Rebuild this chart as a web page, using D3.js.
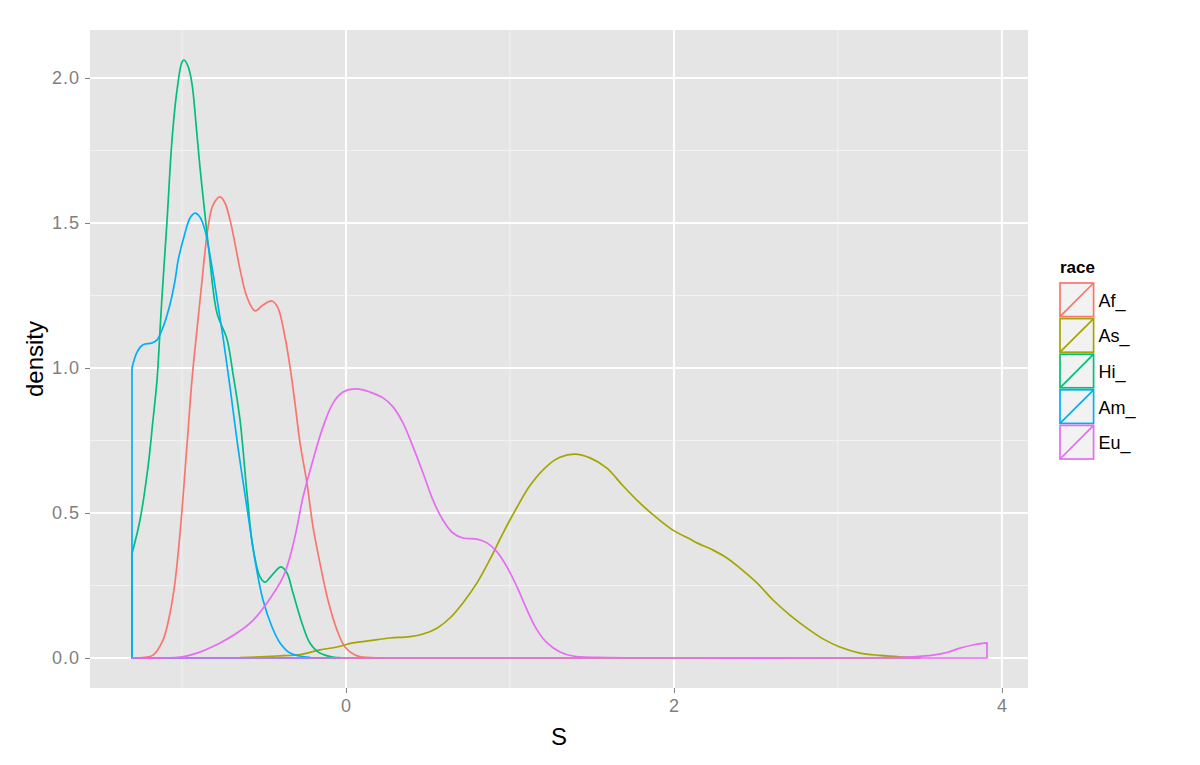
<!DOCTYPE html>
<html>
<head>
<meta charset="utf-8">
<script src="https://cdnjs.cloudflare.com/ajax/libs/d3/7.8.5/d3.min.js"></script>
<style>
  body { margin: 0; background: #fff; }
  text { font-family: Arial, "Liberation Sans", sans-serif; }
</style>
</head>
<body>
<div class="chart"></div>
<script>

// Series names and colours (ggplot default hue palette)
var races = ["Af_", "As_", "Hi_", "Am_", "Eu_"];
var colors = ["#F8766D", "#A3A500", "#00BF7D", "#00B0F6", "#E76BF3"];

// Density estimates, per group
var afX = [-1.305, -1.226, -1.177, -1.116, -1.073, -1.043, -1.012, -0.970, -0.939, -0.909, -0.878, -0.860, -0.841, -0.811, -0.768, -0.738, -0.707, -0.677, -0.646, -0.604, -0.555, -0.506, -0.451, -0.415, -0.372, -0.341, -0.311, -0.280, -0.238, -0.201, -0.159, -0.110, -0.055, -0.006, 0.055, 0.104, 0.226];
var afY = [0, 0.002, 0.01, 0.062, 0.155, 0.26, 0.43, 0.73, 0.96, 1.13, 1.30, 1.40, 1.486, 1.562, 1.59, 1.569, 1.51, 1.43, 1.34, 1.245, 1.197, 1.217, 1.231, 1.207, 1.107, 1.003, 0.879, 0.741, 0.603, 0.452, 0.328, 0.2, 0.097, 0.038, 0.01, 0.003, 0];

var asX = [-0.646, -0.421, -0.280, -0.159, -0.055, 0.043, 0.146, 0.268, 0.390, 0.470, 0.555, 0.634, 0.713, 0.799, 0.878, 0.957, 1.043, 1.122, 1.226, 1.305, 1.396, 1.488, 1.591, 1.689, 1.793, 1.896, 1.994, 2.098, 2.140, 2.238, 2.323, 2.402, 2.506, 2.604, 2.707, 2.811, 2.909, 3.012, 3.134, 3.256, 3.378, 3.5];
var asY = [0.001, 0.007, 0.012, 0.028, 0.038, 0.052, 0.06, 0.069, 0.074, 0.083, 0.103, 0.138, 0.19, 0.259, 0.34, 0.43, 0.52, 0.595, 0.662, 0.692, 0.703, 0.69, 0.655, 0.594, 0.534, 0.483, 0.441, 0.41, 0.397, 0.372, 0.345, 0.31, 0.259, 0.2, 0.148, 0.103, 0.066, 0.038, 0.017, 0.009, 0.004, 0.001];

var hiX = [-1.305, -1.256, -1.207, -1.177, -1.152, -1.134, -1.122, -1.091, -1.061, -1.030, -1.000, -0.988, -0.963, -0.939, -0.915, -0.890, -0.860, -0.835, -0.787, -0.726, -0.689, -0.646, -0.604, -0.567, -0.524, -0.494, -0.451, -0.396, -0.360, -0.323, -0.268, -0.220, -0.159, -0.079, -0.037];
var hiY = [0.36, 0.476, 0.66, 0.82, 0.96, 1.13, 1.245, 1.51, 1.786, 1.96, 2.055, 2.062, 2.04, 1.98, 1.845, 1.69, 1.53, 1.40, 1.19, 1.10, 0.98, 0.82, 0.57, 0.38, 0.28, 0.262, 0.286, 0.314, 0.293, 0.224, 0.12, 0.052, 0.017, 0.003, 0.001];

var amX = [-1.305, -1.274, -1.238, -1.183, -1.152, -1.116, -1.073, -1.043, -1.024, -0.982, -0.951, -0.921, -0.890, -0.860, -0.835, -0.811, -0.787, -0.750, -0.707, -0.659, -0.604, -0.555, -0.506, -0.451, -0.402, -0.341, -0.280, -0.220];
var amY = [1.0, 1.055, 1.08, 1.086, 1.097, 1.14, 1.22, 1.30, 1.37, 1.465, 1.517, 1.534, 1.52, 1.476, 1.407, 1.327, 1.24, 1.107, 0.934, 0.728, 0.52, 0.338, 0.2, 0.107, 0.052, 0.017, 0.007, 0.002];

var euX = [-1.305, -1.012, -0.909, -0.768, -0.665, -0.567, -0.482, -0.384, -0.341, -0.299, -0.262, -0.201, -0.140, -0.079, -0.018, 0.067, 0.146, 0.226, 0.287, 0.348, 0.409, 0.470, 0.530, 0.591, 0.652, 0.713, 0.799, 0.860, 0.921, 0.982, 1.043, 1.104, 1.165, 1.226, 1.305, 1.384, 1.530, 2.0, 3.0, 3.378, 3.457, 3.579, 3.665, 3.744, 3.823, 3.909];
var euY = [0, 0.003, 0.017, 0.052, 0.086, 0.13, 0.19, 0.279, 0.35, 0.45, 0.555, 0.683, 0.797, 0.879, 0.917, 0.928, 0.917, 0.897, 0.866, 0.81, 0.728, 0.638, 0.545, 0.476, 0.431, 0.414, 0.41, 0.397, 0.366, 0.314, 0.245, 0.166, 0.097, 0.052, 0.021, 0.007, 0.002, 0, 0, 0.002, 0.004, 0.01, 0.019, 0.034, 0.045, 0.052];

var seriesX = [afX, asX, hiX, amX, euX];
var seriesY = [afY, asY, hiY, amY, euY];

// Axis breaks
var xTicks = [0, 2, 4];
var xMinor = [-1, 1, 3];
var yTicks = [0, 0.5, 1.0, 1.5, 2.0];
var yMinor = [0.25, 0.75, 1.25, 1.75];

// Dimensions of the plot panel
var width = 1200, height = 765;
var panel = { left: 90, right: 1028, top: 30, bottom: 688 };

var svg = d3.select(".chart")
  .append("svg")
      .attr("width", width)
      .attr("height", height);

// Scales (domain padded like ggplot's default expansion)
var x = d3.scaleLinear()
  .domain([-1.561, 4.159])
  .range([panel.left, panel.right]);

var y = d3.scaleLinear()
  .domain([-0.1034, 2.1655])
  .range([panel.bottom, panel.top]);

// Grey panel background
svg.append("rect")
  .attr("x", panel.left)
  .attr("y", panel.top)
  .attr("width", panel.right - panel.left)
  .attr("height", panel.bottom - panel.top)
  .style("fill", "#E5E5E5");

// Minor grid lines
var grid = svg.append("g").attr("class", "grid");

grid.selectAll(".vminor")
  .data(xMinor)
  .enter()
  .append("line")
  .attr("x1", function(d) { return x(d); })
  .attr("x2", function(d) { return x(d); })
  .attr("y1", panel.top)
  .attr("y2", panel.bottom)
  .style("stroke", "#F2F2F2")
  .style("stroke-width", 1);

grid.selectAll(".hminor")
  .data(yMinor)
  .enter()
  .append("line")
  .attr("x1", panel.left)
  .attr("x2", panel.right)
  .attr("y1", function(d) { return y(d); })
  .attr("y2", function(d) { return y(d); })
  .style("stroke", "#F2F2F2")
  .style("stroke-width", 1);

// Major grid lines
grid.selectAll(".vmajor")
  .data(xTicks)
  .enter()
  .append("line")
  .attr("x1", function(d) { return x(d); })
  .attr("x2", function(d) { return x(d); })
  .attr("y1", panel.top)
  .attr("y2", panel.bottom)
  .style("stroke", "#fff")
  .style("stroke-width", 2);

grid.selectAll(".hmajor")
  .data(yTicks)
  .enter()
  .append("line")
  .attr("x1", panel.left)
  .attr("x2", panel.right)
  .attr("y1", function(d) { return y(d); })
  .attr("y2", function(d) { return y(d); })
  .style("stroke", "#fff")
  .style("stroke-width", 2);

// Density outlines, drawn as closed polygons down to zero
var area = d3.area()
  .x(function(d) { return x(d[0]); })
  .y0(y(0))
  .y1(function(d) { return y(d[1]); })
  .curve(d3.curveCatmullRom.alpha(0.5));

for (var i = 0; i < races.length; i++) {
    var pts = d3.zip(seriesX[i], seriesY[i]);
    svg.append("path")
      .datum(pts)
      .attr("d", area)
      .style("fill", "none")
      .style("stroke", colors[i])
      .style("stroke-width", 1.7)
      .style("stroke-linejoin", "round");
}

// Axes
var xAxis = d3.axisBottom(x)
  .tickValues(xTicks)
  .tickFormat(d3.format("d"))
  .tickSize(5)
  .tickPadding(6);

var yAxis = d3.axisLeft(y)
  .tickValues(yTicks)
  .tickFormat(d3.format(".1f"))
  .tickSize(5)
  .tickPadding(5);

var gx = svg.append("g")
  .attr("transform", "translate(0," + panel.bottom + ")")
  .call(xAxis);

var gy = svg.append("g")
  .attr("transform", "translate(" + panel.left + ",0)")
  .call(yAxis);

[gx, gy].forEach(function(g) {
    g.select(".domain").remove();
    g.selectAll(".tick line").style("stroke", "#7F7F7F");
    g.selectAll(".tick text")
      .style("fill", "#7F7F7F")
      .style("font-size", "18px")
      .style("letter-spacing", "1px");
});

// Axis titles
svg.append("text")
  .attr("x", (panel.left + panel.right) / 2)
  .attr("y", 745)
  .attr("text-anchor", "middle")
  .style("font-size", "24px")
  .text("S");

svg.append("text")
  .attr("transform", "translate(43," + ((panel.top + panel.bottom) / 2) + ") rotate(-90)")
  .attr("text-anchor", "middle")
  .style("font-size", "24px")
  .text("density");

// Legend
var legend = svg.append("g")
  .attr("transform", "translate(1059,258)");

legend.append("text")
  .attr("x", 1)
  .attr("y", 15)
  .style("font-size", "17px")
  .style("font-weight", "bold")
  .text("race");

var keySize = 35.6;

var keys = legend.selectAll(".key")
  .data(races)
  .enter()
  .append("g")
  .attr("transform", function(d, i) { return "translate(0," + (24 + i * keySize) + ")"; });

keys.append("rect")
  .attr("x", 1)
  .attr("y", 1)
  .attr("width", keySize - 2)
  .attr("height", keySize - 2)
  .style("fill", "#F2F2F2")
  .style("stroke", function(d, i) { return colors[i]; })
  .style("stroke-width", 1.7);

keys.append("line")
  .attr("x1", 1)
  .attr("y1", keySize - 1)
  .attr("x2", keySize - 1)
  .attr("y2", 1)
  .style("stroke", function(d, i) { return colors[i]; })
  .style("stroke-width", 1.7);

keys.append("text")
  .attr("x", keySize + 4)
  .attr("y", keySize / 2 + 7)
  .style("font-size", "18px")
  .text(function(d) { return d; });

</script>
</body>
</html>
